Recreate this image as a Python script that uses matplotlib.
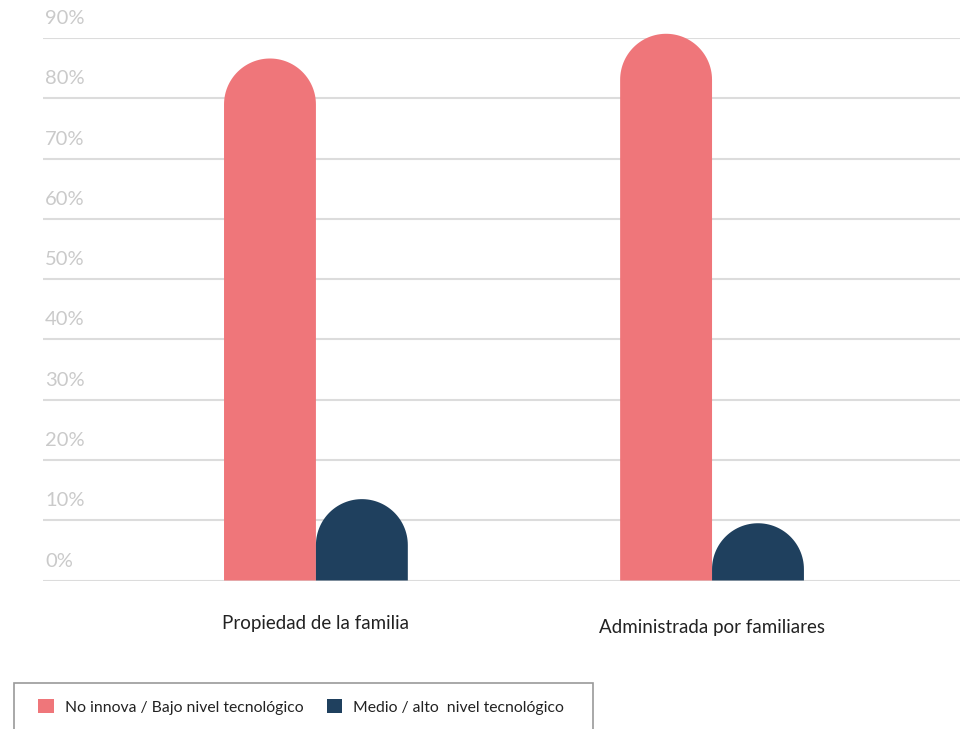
import numpy as np
import matplotlib
matplotlib.use("Agg")
import matplotlib.pyplot as plt
from matplotlib.patches import Polygon, Rectangle, Patch

plt.rcParams['font.family'] = ['Lato', 'DejaVu Sans']

# datos
categorias = ['Propiedad de la familia', 'Administrada por familiares']
bajo_nivel = [86.6, 90.7]     # No innova / Bajo nivel tecnológico
medio_alto = [13.5, 9.5]      # Medio / alto nivel tecnológico
series_labels = ['No innova / Bajo nivel tecnológico', 'Medio / alto  nivel tecnológico']
yticks = [0, 10, 20, 30, 40, 50, 60, 70, 80, 90]

ROSA = '#EF767A'
AZUL = '#1F405E'

W, H = 960, 729
fig = plt.figure(figsize=(W / 100, H / 100), dpi=100)
ax_left, ax_right = 43 / W, 1.0
ax_bot, ax_top = (H - 580.5) / H, (H - 38) / H
ax = fig.add_axes([ax_left, ax_bot, ax_right - ax_left, ax_top - ax_bot])

x = np.arange(len(categorias))
ax.set_xlim(-0.689, 1.626)
ax.set_ylim(0, 90)
bw = 0.232

# unidades de datos por pixel, para que la punta sea un semicírculo de verdad
ax_w_px = (ax_right - ax_left) * W
ax_h_px = (ax_top - ax_bot) * H
ux = (1.626 + 0.689) / ax_w_px
uy = 90 / ax_h_px


def barra_redonda(x0, valor, color):
    r_px = bw / ux / 2
    ry = r_px * uy
    cx = x0 + bw / 2
    y0 = max(valor - ry, 0)
    t = np.linspace(0, np.pi, 60)
    arco = np.column_stack([cx + (bw / 2) * np.cos(t), y0 + ry * np.sin(t)])
    pts = np.vstack([[x0 + bw, 0], arco, [x0, 0]])
    ax.add_patch(Polygon(pts, closed=True, facecolor=color, edgecolor='none',
                         clip_on=False, zorder=3))


for i in range(len(categorias)):
    barra_redonda(x[i] - bw, bajo_nivel[i], ROSA)
    barra_redonda(x[i], medio_alto[i], AZUL)

# rejilla
for v in yticks:
    ax.axhline(v, color='#dcdcdc', lw=1.5, zorder=1)
    ax.annotate(f'{v}%', (0, v), xycoords=('axes fraction', 'data'),
                xytext=(1.5, 14), textcoords='offset points',
                ha='left', va='center', fontsize=14.5, color='#cacaca')

for sp in ax.spines.values():
    sp.set_visible(False)
ax.set_xticks([])
ax.set_yticks([])

# etiquetas de categorías
offs = [-31, -34]
for i, cat in enumerate(categorias):
    ax.annotate(cat, (x[i], 0), xytext=(0, offs[i]), textcoords='offset points',
                ha='center', va='center', fontsize=13.5, color='#222222')

# leyenda con caja
fig.patches.append(Rectangle((14 / W, -0.05), (593 - 14) / W, 0.05 + (H - 683) / H,
                             transform=fig.transFigure, facecolor='none',
                             edgecolor='#9a9a9a', lw=1.2))
handles = [Patch(facecolor=ROSA, edgecolor='none'), Patch(facecolor=AZUL, edgecolor='none')]
fig.legend(handles, series_labels, loc='center left',
           bbox_to_anchor=(30 / W, (H - 707) / H), ncol=2, frameon=False,
           fontsize=11.3, handlelength=1.0, handleheight=1.0, handletextpad=0.7,
           columnspacing=1.5, borderpad=0, labelcolor='#222222')

fig.savefig('out.png', dpi=100)
